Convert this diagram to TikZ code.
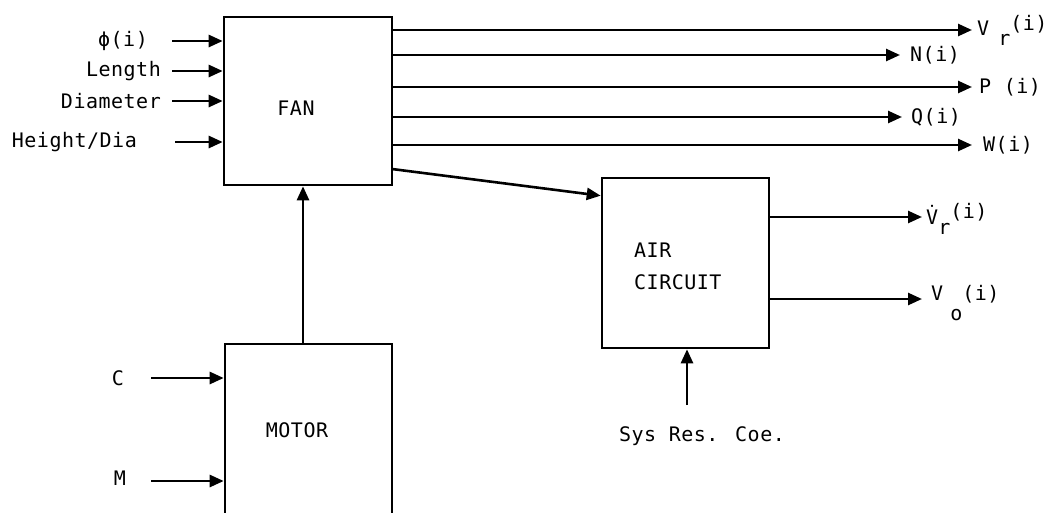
\documentclass[tikz,border=0pt]{standalone}
\usepackage{fontspec}
\newfontfamily\dfont{DejaVu Sans Mono}[LetterSpace=2.5]
\usetikzlibrary{arrows.meta}
\tikzset{
  box/.style={draw, line width=2.6pt, inner sep=0pt},
  arr/.style={line width=2.6pt, -{Triangle[length=14pt,width=12pt]}},
  txt/.style={font=\dfont\fontsize{20}{32}\selectfont, inner sep=0pt},
}
\begin{document}
\begin{tikzpicture}[x=1pt,y=-1pt]
\useasboundingbox (0,0) rectangle (1050,512);
\clip (0,0) rectangle (1050,512);
% blocks
\node[box, minimum width=168pt, minimum height=168pt] (fan) at (308,101) {};
\node[box, minimum width=167pt, minimum height=170pt] (air) at (685.5,263) {};
\node[box, minimum width=167pt, minimum height=200pt] (motor) at (308.5,444) {};
\node[txt] (fantxt) at (296,108) {FAN};
\node[txt, anchor=west, align=left] (airtxt) at (634,266) {AIR\\CIRCUIT};
\node[txt] (motortxt) at (297,430) {MOTOR};
% fan inputs
\node[txt, anchor=east] (lphi) at (148,41) {ϕ(i)};
\node[txt, anchor=east] (llen) at (161,71) {Length};
\node[txt, anchor=east] (ldia) at (161,101) {Diameter};
\node[txt, anchor=east] (lhd) at (137,142) {Height/Dia};
\draw[arr] ([xshift=24pt]lphi.east) -- (lphi.east -| fan.west);
\draw[arr] ([xshift=11pt]llen.east) -- (llen.east -| fan.west);
\draw[arr] ([xshift=11pt]ldia.east) -- (ldia.east -| fan.west);
\draw[arr] ([xshift=38pt]lhd.east) -- (lhd.east -| fan.west);
% fan outputs
\coordinate (o1) at (972,30);
\coordinate (o2) at (900,55);
\coordinate (o3) at (972,87);
\coordinate (o4) at (902,117);
\coordinate (o5) at (972,145);
\draw[arr] (o1 -| fan.east) -- (o1);
\draw[arr] (o2 -| fan.east) -- (o2);
\draw[arr] (o3 -| fan.east) -- (o3);
\draw[arr] (o4 -| fan.east) -- (o4);
\draw[arr] (o5 -| fan.east) -- (o5);
\node[txt, anchor=base west] (lvr) at (977,35) {V\hspace{9pt}\raisebox{-10pt}{r}\raisebox{5pt}{(i)}};
\node[txt, anchor=west] (ln) at (910,55) {N(i)};
\node[txt, anchor=west] (lp) at (979,87) {P (i)};
\node[txt, anchor=west] (lq) at (911,117) {Q(i)};
\node[txt, anchor=west] (lw) at (983,145) {W(i)};
% fan to air circuit
\coordinate (fo6) at (392,169);
\draw[arr] (fo6) -- ([yshift=-19pt]air.north west);
% motor to fan
\draw[arr] ([xshift=-5.5pt]motor.north) -- ([xshift=-5pt]fan.south);
% motor inputs
\node[txt] (lc) at (118,378) {C};
\node[txt] (lm) at (120,478) {M};
\draw[arr] ([xshift=27pt]lc.east) -- (lc.east -| motor.west);
\draw[arr] ([xshift=25pt,yshift=-3pt]lm.east) -- ([yshift=-3pt]lm.east -| motor.west);
% air circuit outputs
\coordinate (a1) at (922,217);
\coordinate (a2) at (922,299);
\draw[arr] (a1 -| air.east) -- (a1);
\draw[arr] (a2 -| air.east) -- (a2);
\node[txt, anchor=base west] (lvr2) at (926,224) {\.V\raisebox{-10pt}{r}\raisebox{6pt}{(i)}};
\node[txt, anchor=base west] (lvo) at (931,300) {V\hspace{7pt}\raisebox{-20pt}{o}(i)};
% system resistance
\node[txt] (lsys) at (702,436) {Sys Res. Coe.};
\coordinate (sysin) at (687,405);
\draw[arr] (sysin) -- (sysin |- air.south);
\end{tikzpicture}
\end{document}
